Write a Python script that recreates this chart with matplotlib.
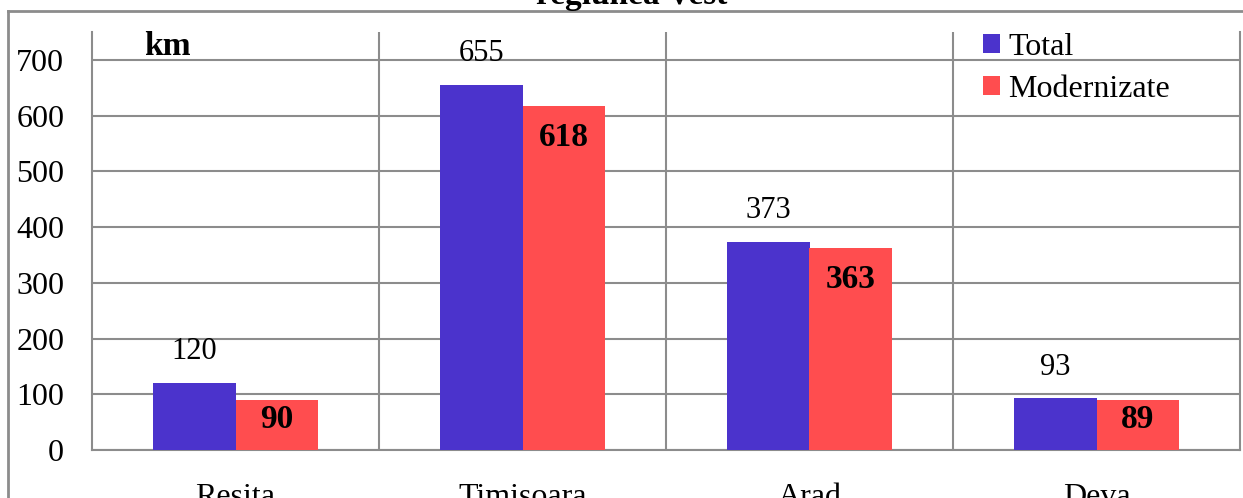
import numpy as np
import matplotlib
matplotlib.use("Agg")
import matplotlib.pyplot as plt
from matplotlib.lines import Line2D

# Data
categories = ["Resita", "Timisoara", "Arad", "Deva"]
total = [120, 655, 373, 93]
modernizate = [90, 618, 363, 89]
series_names = ["Total", "Modernizate"]
yticks = [0, 100, 200, 300, 400, 500, 600, 700]

plt.rcParams['font.family'] = ['Liberation Serif', 'DejaVu Serif']

W, H = 1243, 498
fig = plt.figure(figsize=(W / 100, H / 100), dpi=100)

# axes placed in pixel terms
left, right, top, bottom = 92, 1240, 32, 450
ax = fig.add_axes([left / W, 1 - bottom / H, (right - left) / W, (bottom - top) / H])

blue = "#4B33CC"
red = "#FF4D4F"
grid_col = "#8C8C8C"

x = np.arange(len(categories))
bw = 0.286
b1 = ax.bar(x - bw / 2, total, bw, color=blue, label=series_names[0], zorder=3)
b2 = ax.bar(x + bw / 2, modernizate, bw, color=red, label=series_names[1], zorder=3)

ax.set_xlim(-0.5, len(categories) - 0.5)
ax.set_ylim(0, 750)
ax.set_yticks(yticks)
ax.set_xticks(x)
ax.set_xticklabels(categories)
ax.tick_params(axis='both', length=0, labelsize=23)
ax.tick_params(axis='y', pad=20)
ax.tick_params(axis='x', pad=24)

ax.yaxis.grid(True, color=grid_col, linewidth=1.5, zorder=0)
for sep in np.arange(0.5, len(categories) - 0.5, 1):
    ax.axvline(sep, color=grid_col, linewidth=1.5, zorder=0)
for side in ['left', 'right', 'bottom']:
    ax.spines[side].set_color(grid_col)
    ax.spines[side].set_linewidth(1.5)
ax.spines['top'].set_visible(False)

# value labels
for rect, v in zip(b1, total):
    ax.annotate(str(v), (rect.get_x() + rect.get_width() / 2, v),
                xytext=(0, 12), textcoords='offset points',
                ha='center', va='bottom', fontsize=22)
for rect, v in zip(b2, modernizate):
    dy = -23 if v > 200 else -14
    ax.annotate(str(v), (rect.get_x() + rect.get_width() / 2, v),
                xytext=(0, dy), textcoords='offset points',
                ha='center', va='center', fontsize=24, fontweight='bold')

ax.text(0.066, 0.965, "km", transform=ax.transAxes, fontsize=24,
        fontweight='bold', ha='center', va='center')

leg = ax.legend(loc='upper left', bbox_to_anchor=(0.751, 1.066), frameon=False,
                fontsize=23, handlelength=0.55, handleheight=0.55,
                handletextpad=0.25, labelspacing=0.4)

# title, cut at the top of the image
fig.text(632 / W, 1 - 4 / H, "regiunea Vest", ha='center', va='baseline',
         fontsize=24, fontweight='bold')

# outer border
fig.add_artist(Line2D([8 / W, 1], [1 - 11 / H, 1 - 11 / H], transform=fig.transFigure,
                      color=grid_col, linewidth=2))
fig.add_artist(Line2D([8 / W, 8 / W], [0, 1 - 11 / H], transform=fig.transFigure,
                      color=grid_col, linewidth=2))

fig.savefig("out.png", dpi=100)
